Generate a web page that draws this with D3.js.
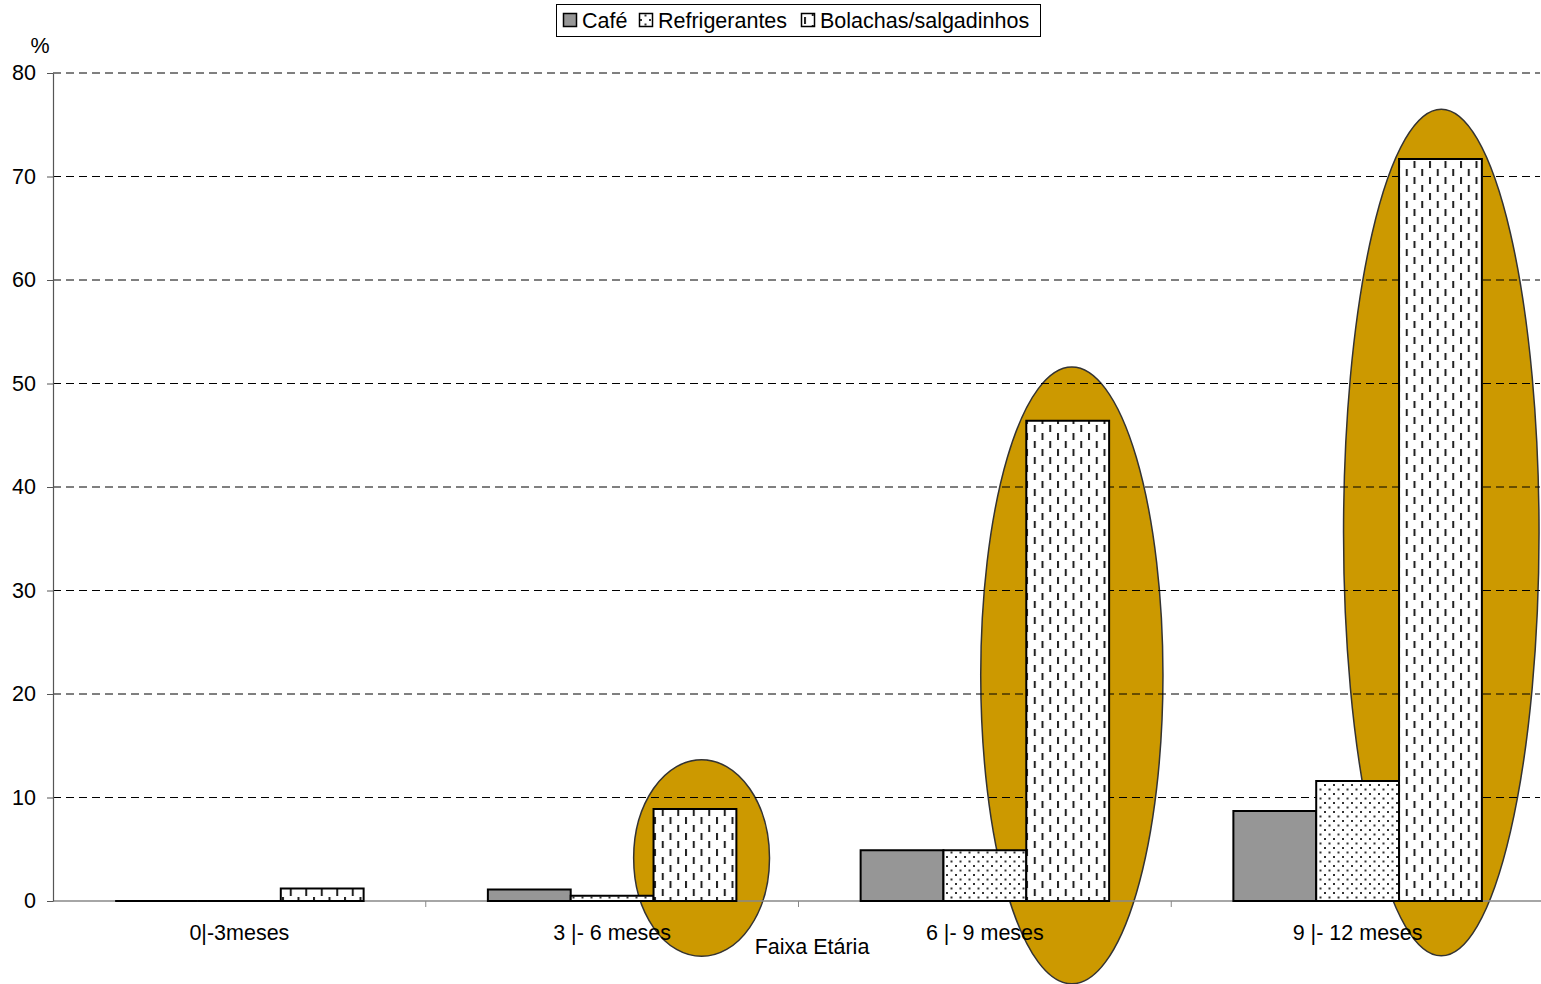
<!DOCTYPE html>
<html><head><meta charset="utf-8">
<script src="https://cdn.jsdelivr.net/npm/d3@7/dist/d3.min.js"></script>
<style>
html,body{margin:0;padding:0;background:#fff;}
svg{display:block;font-family:"Liberation Sans",Arial,sans-serif;}
</style></head>
<body>
<svg id="chart" width="1541" height="984"></svg>
<script>
const categories = ["0|-3meses", "3 |- 6 meses", "6 |- 9 meses", "9 |- 12 meses"];
const seriesNames = ["Café", "Refrigerantes", "Bolachas/salgadinhos"];
const cafe = [0, 1.1, 4.9, 8.7];
const refrigerantes = [0, 0.5, 4.9, 11.6];
const bolachas = [1.2, 8.9, 46.4, 71.7];
const yTicks = [0, 10, 20, 30, 40, 50, 60, 70, 80];
// highlight ellipses: category, centre value, vertical radius (value units), horizontal radius (bar widths)
const ellipseCats = ["3 |- 6 meses", "6 |- 9 meses", "9 |- 12 meses"];
const ellipseCenter = [4.15, 21.8, 35.6];
const ellipseRy = [9.5, 29.8, 40.9];
const ellipseRxBars = [0.82, 1.1, 1.18];
const ellipseShift = [0.08, 0.05, 0.01];

(function () {
const seriesValues = [cafe, refrigerantes, bolachas];
const svg = d3.select("#chart");
const mLeft = 53, mRight = 1544, mTop = 73, mBottom = 901;
const FS = 21.5;

const x0 = d3.scaleBand().domain(categories).range([mLeft, mRight]).padding(0);
const bw = x0.bandwidth();
const x1 = d3.scaleBand().domain(seriesNames).range([bw / 6, bw * 5 / 6]).padding(0);
const y = d3.scaleLinear().domain([0, 80]).range([mBottom, mTop]);

const defs = svg.append("defs");
const pDots = defs.append("pattern").attr("id", "dots").attr("patternUnits", "userSpaceOnUse")
  .attr("width", 9).attr("height", 9);
pDots.append("rect").attr("width", 9).attr("height", 9).attr("fill", "#fff");
pDots.append("rect").attr("x", 1).attr("y", 1).attr("width", 2).attr("height", 2).attr("fill", "#333");
pDots.append("rect").attr("x", 5.5).attr("y", 5.5).attr("width", 2).attr("height", 2).attr("fill", "#333");
const pDash = defs.append("pattern").attr("id", "dashv").attr("patternUnits", "userSpaceOnUse")
  .attr("width", 15.5).attr("height", 16).attr("x", 3);
pDash.append("rect").attr("width", 15.5).attr("height", 16).attr("fill", "#fff");
pDash.append("rect").attr("x", 0).attr("y", 1).attr("width", 2).attr("height", 7).attr("fill", "#222");
pDash.append("rect").attr("x", 7.75).attr("y", 9).attr("width", 2).attr("height", 7).attr("fill", "#222");

const fills = ["#969696", "url(#dots)", "url(#dashv)"];

const eData = ellipseCats.map((c, i) => ({c, cy: ellipseCenter[i], ry: ellipseRy[i], rx: ellipseRxBars[i], sh: ellipseShift[i]}));
svg.append("g").selectAll("ellipse").data(eData).join("ellipse")
  .attr("cx", d => x0(d.c) + x1("Bolachas/salgadinhos") + x1.bandwidth() * (0.5 + d.sh))
  .attr("cy", d => y(d.cy))
  .attr("rx", d => d.rx * x1.bandwidth())
  .attr("ry", d => y(0) - y(d.ry))
  .attr("fill", "#CC9900").attr("stroke", "#333").attr("stroke-width", 1.5);

svg.append("g").selectAll("line").data(yTicks.filter(t => t > 0)).join("line")
  .attr("x1", mLeft).attr("x2", mRight - 4).attr("y1", d => y(d)).attr("y2", d => y(d))
  .attr("stroke", "#000").attr("stroke-width", 1).attr("stroke-dasharray", "8,5");

const xAxis = svg.append("g").attr("transform", `translate(0,${mBottom})`)
  .call(d3.axisBottom(x0).tickSize(0).tickFormat(""));
xAxis.select(".domain").attr("stroke", "#888").attr("stroke-width", 1.5).attr("d", `M${mLeft},0H${mRight}`);
svg.append("g").selectAll("line").data(categories.slice(1)).join("line")
  .attr("x1", d => x0(d)).attr("x2", d => x0(d)).attr("y1", mBottom).attr("y2", mBottom + 6)
  .attr("stroke", "#888").attr("stroke-width", 1);

const barData = [];
categories.forEach((c, ci) => seriesNames.forEach((s, si) => barData.push({c, s, si, v: seriesValues[si][ci]})));
svg.append("g").selectAll("path").data(barData).join("path")
  .attr("d", d => {
    const xa = x0(d.c) + x1(d.s), xb = xa + x1.bandwidth();
    return `M${xa},${y(0)}V${y(d.v)}H${xb}V${y(0)}Z`;
  })
  .attr("fill", d => fills[d.si]).attr("stroke", "#000").attr("stroke-width", 2);

const yAxis = svg.append("g").attr("transform", `translate(${mLeft},0)`)
  .call(d3.axisLeft(y).tickValues(yTicks).tickSize(6).tickPadding(11).tickSizeOuter(0));
yAxis.attr("font-size", null).attr("font-family", null);
yAxis.select(".domain").attr("stroke", "#555").attr("stroke-width", 1.2);
yAxis.selectAll(".tick line").attr("stroke", "#555");
yAxis.selectAll("text").attr("font-size", FS).attr("fill", "#000");

svg.append("text").attr("x", 40).attr("y", 53).attr("text-anchor", "middle")
  .attr("font-size", FS).text("%");

svg.append("g").selectAll("text").data(categories).join("text")
  .attr("x", d => x0(d) + bw / 2).attr("y", 940).attr("text-anchor", "middle")
  .attr("font-size", FS).text(d => d);
svg.append("text").attr("x", 812).attr("y", 954).attr("text-anchor", "middle")
  .attr("font-size", FS).text("Faixa Etária");

const lg = svg.append("g");
lg.append("rect").attr("x", 556.5).attr("y", 4.5).attr("width", 484).attr("height", 32)
  .attr("fill", "#fff").attr("stroke", "#000").attr("stroke-width", 1);
const legX = [563, 639, 801];
const lgi = lg.selectAll("g.item").data(seriesNames).join("g").attr("class", "item")
  .attr("transform", (d, i) => `translate(${legX[i]},0)`);
lgi.append("rect").attr("x", 0.5).attr("y", 13.5).attr("width", 13).attr("height", 13)
  .attr("fill", (d, i) => fills[i]).attr("stroke", "#000").attr("stroke-width", 1.5);
lgi.append("text").attr("x", 19).attr("y", 28).attr("font-size", FS).text(d => d);
})();
</script>
</body></html>
